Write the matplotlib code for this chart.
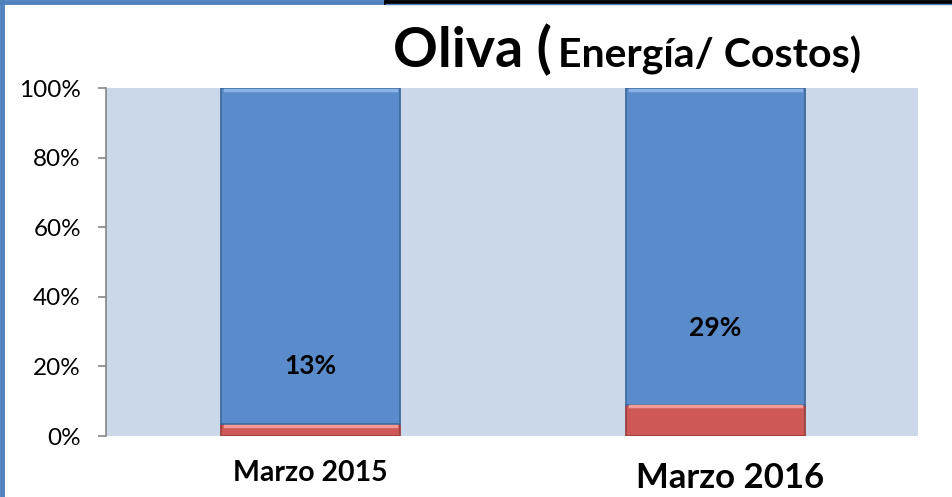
import numpy as np
import matplotlib.pyplot as plt
from matplotlib.lines import Line2D

plt.rcParams['font.family'] = ['Lato', 'DejaVu Sans']

categorias = ["Marzo 2015", "Marzo 2016"]
energia = [3.5, 9.0]          # red segment (%)
resto = [96.5, 91.0]          # blue segment (%)
etiquetas = ["13%", "29%"]
etiqueta_y = [20, 31]

fig = plt.figure(figsize=(9.52, 4.97), dpi=100)
ax = fig.add_axes([0.1113, 0.1227, 0.8530, 0.7002])
ax.set_facecolor("#CAD8EA")

x = np.arange(len(categorias))
w = 0.442
ax.bar(x, energia, width=w, color="#CD5855", edgecolor="#9E403E", linewidth=1.3, zorder=3)
ax.bar(x, resto, width=w, bottom=energia, color="#5A8BCB", edgecolor="#3F6C9E", linewidth=1.3, zorder=3)
# light highlight on top of each segment
for xi, e, r in zip(x, energia, resto):
    ax.plot([xi - w / 2 + 0.01, xi + w / 2 - 0.01], [e - 0.5, e - 0.5], color="#F29A97", lw=2.5, zorder=4)
    ax.plot([xi - w / 2 + 0.01, xi + w / 2 - 0.01], [e + r - 0.6, e + r - 0.6], color="#8DB4E6", lw=2.5, zorder=4)

for xi, t, yy in zip(x, etiquetas, etiqueta_y):
    ax.text(xi, yy, t, ha="center", va="center", fontsize=19, fontweight="bold", zorder=5)

ax.set_xlim(-0.505, 1.5)
ax.set_ylim(0, 100)
ax.set_yticks(np.arange(0, 101, 20))
ax.set_yticklabels([f"{v}%" for v in range(0, 101, 20)], fontsize=17.5)
ax.tick_params(axis="y", length=6, color="#868686", width=1.2, pad=12)
ax.set_xticks([])
for s in ["top", "right", "bottom"]:
    ax.spines[s].set_visible(False)
ax.spines["left"].set_color("#868686")
ax.spines["left"].set_linewidth(1.2)

ax.text(0, -10.5, categorias[0], ha="center", va="center", fontsize=20.5, fontweight="bold")
ax.text(1.035, -12, categorias[1], ha="center", va="center", fontsize=25, fontweight="bold")

fig.text(0.413, 0.90, "Oliva (", fontsize=40, fontweight="bold", ha="left", va="center")
fig.text(0.586, 0.888, "Energía/ Costos)", fontsize=29.5, fontweight="bold", ha="left", va="center")

# frame lines
fig.add_artist(Line2D([0.002, 0.002], [0, 1], color="#4F81BD", lw=3.5, transform=fig.transFigure))
fig.add_artist(Line2D([0, 0.405], [0.996, 0.996], color="#4F81BD", lw=3.5, transform=fig.transFigure))
fig.add_artist(Line2D([0.405, 1], [0.996, 0.996], color="black", lw=3.5, transform=fig.transFigure))
fig.add_artist(Line2D([0.405, 1], [0.991, 0.991], color="#4F81BD", lw=1, transform=fig.transFigure))

fig.savefig("out.png", dpi=100)
